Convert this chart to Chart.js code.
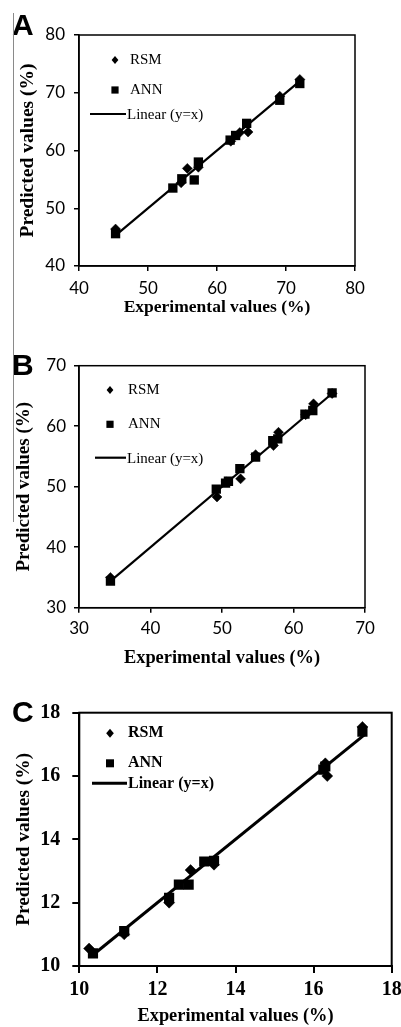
<!DOCTYPE html>
<html><head><meta charset="utf-8">
<script src="https://cdn.jsdelivr.net/npm/chart.js@4.4.1/dist/chart.umd.min.js"></script>
<style>
html,body{margin:0;padding:0;background:#fff;}
#wrap{position:relative;width:401px;height:1027px;overflow:hidden;background:#fff;}
canvas{position:absolute;left:0;}
#rule{position:absolute;left:13px;top:13px;width:1px;height:509px;background:#8a8a8a;}
</style></head><body>
<div id="wrap">
<canvas id="cA" width="401" height="330" style="top:0;width:401px;height:330px"></canvas>
<canvas id="cB" width="401" height="340" style="top:330px;width:401px;height:340px"></canvas>
<canvas id="cC" width="401" height="357" style="top:670px;width:401px;height:357px"></canvas>
<div id="rule"></div>
</div>
<script>
// ---------- data ----------
const seriesNames = ['RSM', 'ANN', 'Linear (y=x)'];
const xTitleText = 'Experimental values (%)';
const yTitleText = 'Predicted values (%)';

// Panel A
const ticksA = [40, 50, 60, 70, 80];
const rsmA = [[45.3,46.4],[54.8,54.4],[55.7,56.9],[57.3,57.1],[62.0,61.6],[63.3,63.1],[64.5,63.2],[69.1,69.4],[72.0,72.3]];
const annA = [[45.3,45.6],[53.6,53.5],[54.9,55.1],[56.7,54.9],[57.3,58.0],[61.9,61.8],[62.7,62.6],[64.3,64.7],[69.1,68.7],[72.0,71.6]];
const fitA = [45.3, 72.0];

// Panel B
const ticksB = [30, 40, 50, 60, 70];
const rsmB = [[34.4,35.0],[49.3,48.3],[50.6,50.8],[52.6,51.3],[54.7,55.3],[57.2,56.8],[57.9,59.0],[61.7,61.9],[62.8,63.7],[65.4,65.4]];
const annB = [[34.4,34.4],[49.2,49.6],[50.5,50.6],[50.9,50.9],[52.5,53.0],[54.7,54.9],[57.1,57.6],[57.8,57.9],[61.6,62.0],[62.7,62.6],[65.4,65.5]];
const fitB = [34.4, 65.4];

// Panel C
const ticksC = [10, 12, 14, 16, 18];
const rsmC = [[10.25,10.55],[11.15,11.0],[12.3,12.0],[12.85,13.03],[13.45,13.2],[16.3,16.4],[16.35,16.0],[17.25,17.55]];
const annC = [[10.35,10.4],[11.15,11.1],[12.3,12.15],[12.55,12.57],[12.8,12.57],[13.2,13.3],[13.45,13.32],[16.25,16.2],[16.3,16.3],[17.25,17.4]];
const fitC = [10.3, 17.3];

// ---------- helpers ----------
const toPts = arr => arr.map(p => ({x: p[0], y: p[1]}));
const SERIF = '"Liberation Serif", "Times New Roman", serif';

const decor = {
  id: 'decor',
  afterDraw(chart, args, o) {
    const ctx = chart.ctx, a = chart.chartArea;
    ctx.save();
    ctx.strokeStyle = '#000';
    ctx.lineWidth = o.axisWidth;
    ctx.strokeRect(a.left, a.top, a.right - a.left, a.bottom - a.top);
    // panel letter
    ctx.fillStyle = '#000';
    ctx.font = 'bold ' + o.letter.size + 'px "Liberation Sans", Arial, sans-serif';
    ctx.textAlign = 'left';
    ctx.textBaseline = 'alphabetic';
    ctx.fillText(o.letter.text, o.letter.x, o.letter.y);
    // legend
    const L = o.legend;
    const ds = chart.data.datasets;
    ctx.font = (L.weight || 'normal') + ' ' + L.size + 'px ' + SERIF;
    ctx.textBaseline = 'middle';
    // diamond
    let r = L.diamond, x = L.markerX, y = L.rows[0];
    ctx.beginPath();
    ctx.moveTo(x - r * 0.85, y); ctx.lineTo(x, y - r); ctx.lineTo(x + r * 0.85, y); ctx.lineTo(x, y + r);
    ctx.closePath(); ctx.fill();
    ctx.fillText(ds[0].label, L.textX, y);
    // square
    r = L.square; y = L.rows[1];
    ctx.fillRect(x - r, y - r, 2 * r, 2 * r);
    ctx.fillText(ds[1].label, L.textX, y);
    // line
    y = L.rows[2];
    ctx.lineWidth = L.lineWidth;
    ctx.beginPath(); ctx.moveTo(L.line[0], y); ctx.lineTo(L.line[1], y); ctx.stroke();
    ctx.fillText(ds[2].label, L.line[1] + 1, y + 1);
    ctx.restore();
  }
};

function makeChart(id, c) {
  const W = 401;
  const axisFit = (kind) => (s) => {
    if (kind === 'x') { s.height = c.H - c.area.bottom; }
    else { s.width = c.area.left; }
    s.paddingLeft = 0; s.paddingRight = 0; s.paddingTop = 0; s.paddingBottom = 0;
  };
  const common = (kind, ticks) => ({
    type: 'linear',
    min: ticks[0], max: ticks[ticks.length - 1],
    afterBuildTicks: s => { s.ticks = ticks.map(v => ({value: v})); },
    afterFit: axisFit(kind),
    border: {display: true, color: '#000', width: c.axisWidth},
    grid: {display: true, drawOnChartArea: false, drawTicks: true, tickLength: c.tickLen, color: '#000', lineWidth: c.axisWidth},
    ticks: {
      color: '#000', font: c.tickFont, padding: kind === 'x' ? c.tickPadX : c.tickPadY,
      maxRotation: 0, autoSkip: false, callback: v => String(v)
    },
    title: kind === 'x'
      ? {display: true, text: xTitleText, color: '#000', font: {family: SERIF, weight: 'bold', size: c.xTitle.size}, padding: {top: 0, bottom: c.xTitle.pad}}
      : {display: true, text: yTitleText, color: '#000', font: {family: SERIF, weight: 'bold', size: c.yTitle.size}, padding: {top: c.yTitle.pad, bottom: 0}}
  });
  return new Chart(document.getElementById(id), {
    type: 'scatter',
    data: {
      datasets: [
        {label: seriesNames[0], data: toPts(c.rsm), pointStyle: 'rectRot', pointRadius: c.diamond, backgroundColor: '#000', borderColor: '#000', borderWidth: 0.5, showLine: false},
        {label: seriesNames[1], data: toPts(c.ann), pointStyle: 'rect', pointRadius: c.square, backgroundColor: '#000', borderWidth: 0, showLine: false},
        {label: seriesNames[2], data: toPts(c.fit.map(v => [v, v])), showLine: true, pointRadius: 0, borderColor: '#000', borderWidth: c.lineWidth, backgroundColor: '#000'}
      ]
    },
    options: {
      responsive: false, animation: false, events: [],
      devicePixelRatio: 1,
      layout: {padding: {left: 0, top: c.area.top, right: W - c.area.right, bottom: 0}},
      scales: {x: common('x', c.ticks), y: common('y', c.ticks)},
      plugins: {
        legend: {display: false}, tooltip: {enabled: false},
        decor: {axisWidth: c.axisWidth, letter: c.letter, legend: c.legend}
      }
    },
    plugins: [decor]
  });
}

const sansTick = {family: 'Lato, "Open Sans", sans-serif', size: 17};

makeChart('cA', {
  H: 330, area: {left: 79, top: 35, right: 355, bottom: 266},
  ticks: ticksA, rsm: rsmA, ann: annA, fit: fitA,
  tickFont: sansTick, tickPadX: 7, tickPadY: 9, tickLen: 5, axisWidth: 1.5,
  xTitle: {size: 17.5, pad: 12.5}, yTitle: {size: 19.5, pad: 15.8},
  diamond: 5, square: 6.6, lineWidth: 2.2,
  letter: {text: 'A', x: 12, y: 35, size: 30},
  legend: {markerX: 115, textX: 130, rows: [60, 90, 114], line: [90, 126], size: 15, lineWidth: 2.2, diamond: 4, square: 3.6}
});

makeChart('cB', {
  H: 340, area: {left: 79, top: 35.7, right: 365, bottom: 277.7},
  ticks: ticksB, rsm: rsmB, ann: annB, fit: fitB,
  tickFont: sansTick, tickPadX: 6, tickPadY: 8, tickLen: 5, axisWidth: 1.5,
  xTitle: {size: 18.4, pad: 1}, yTitle: {size: 19, pad: 12.6},
  diamond: 5, square: 6.6, lineWidth: 2.2,
  letter: {text: 'B', x: 12, y: 45, size: 30},
  legend: {markerX: 110, textX: 128, rows: [60, 94.3, 127.7], line: [95, 126], size: 15, lineWidth: 2.2, diamond: 4, square: 3.6}
});

makeChart('cC', {
  H: 357, area: {left: 79.3, top: 42.7, right: 391.7, bottom: 296},
  ticks: ticksC, rsm: rsmC, ann: annC, fit: fitC,
  tickFont: {family: SERIF, size: 20, weight: 'bold'}, tickPadX: 5, tickPadY: 12, tickLen: 7, axisWidth: 2,
  xTitle: {size: 18.4, pad: 0}, yTitle: {size: 19.4, pad: 11.9},
  diamond: 5.5, square: 7.2, lineWidth: 3,
  letter: {text: 'C', x: 12, y: 52, size: 30},
  legend: {markerX: 110, textX: 128, rows: [63.3, 93.3, 113.3], line: [92, 127], size: 16, weight: 'bold', lineWidth: 3, diamond: 4.5, square: 4}
});
</script>
</body></html>
